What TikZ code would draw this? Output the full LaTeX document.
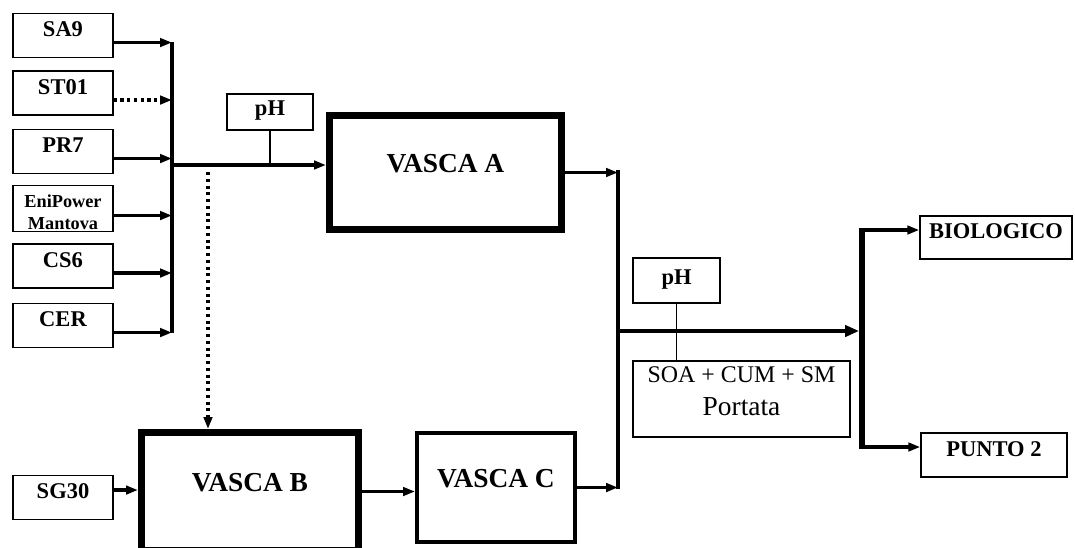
\documentclass[tikz,border=0pt]{standalone}
\usepackage{fontspec}
\setmainfont{Liberation Serif}
\usetikzlibrary{arrows.meta,positioning,calc}

\begin{document}
\begin{tikzpicture}[x=0.025cm, y=-0.025cm, >={Triangle[length=8.5pt,width=6pt]},
    srcbox/.style={draw, line width=1pt, minimum width=2.5cm, minimum height=1.1cm, inner sep=0pt,
        font=\bfseries\fontsize{16}{18}\selectfont, text height=10.5pt, text depth=9pt},
    phbox/.style={draw, line width=1pt, minimum width=2.15cm, minimum height=0.9cm, inner sep=0pt,
        font=\bfseries\fontsize{16}{18}\selectfont, text height=10.5pt, text depth=5pt},
    vasca/.style={draw, line width=5pt, inner sep=0pt,
        font=\bfseries\fontsize{19.5}{22}\selectfont, text height=12.8pt, text depth=13.5pt},
    flow/.style={->, line width=2.3pt},
    dotflow/.style={->, line width=2.2pt, dash pattern=on 2.2pt off 2.6pt},
    tap/.style={line width=0.9pt}]
    \useasboundingbox (0,0) rectangle (1075,547);

    % Sources
    \node[srcbox] (sa9) at (63,35.5) {SA9};
    \node[srcbox] (st01) at (63,93) {ST01};
    \node[srcbox] (pr7) at (63,151.5) {PR7};
    \node[srcbox, font=\bfseries\fontsize{13}{15}\selectfont, text height=31pt, text depth=1.8pt]
        (eni) at (63,208.5) {\begin{tabular}[b]{@{}c@{}}EniPower\\Mantova\end{tabular}};
    \node[srcbox] (cs6) at (63,266) {CS6};
    \node[srcbox] (cer) at (63,325.5) {CER};
    \node[srcbox] (sg30) at (63,497.5) {SG30};

    % Tanks
    \node[vasca, minimum width=5.8cm, minimum height=2.85cm] (vascaA) at (445.5,172.5) {VASCA A};
    \node[vasca, minimum width=5.425cm, minimum height=2.95cm] (vascaB) at (250,491.5) {VASCA B};
    \node[vasca, line width=2.8pt, minimum width=3.95cm, minimum height=2.725cm] (vascaC) at (496,487.5) {VASCA C};

    % Measures
    \node[phbox] (ph1) at (270,112) {pH};
    \node[phbox, minimum width=2.175cm, minimum height=1.125cm] (ph2) at (676.5,280.5) {pH};
    \node[draw, line width=1pt, minimum width=5.425cm, minimum height=1.9cm, inner sep=0pt,
        font=\fontsize{17}{23}\selectfont, text height=30pt, text depth=7.2pt] (soa) at (741.5,399)
        {\begin{tabular}[b]{@{}c@{}}SOA + CUM + SM\\{\fontsize{19.5}{23}\selectfont Portata}\end{tabular}};

    % Outlets
    \node[srcbox, minimum width=3.8cm, minimum height=1.075cm] (bio) at (996,237.5) {BIOLOGICO};
    \node[srcbox, minimum width=3.65cm] (punto) at (994,455) {PUNTO 2};

    % Collector to VASCA A
    \coordinate (busTop) at (172,42);
    \coordinate (busBot) at (172,333);
    \coordinate (junA) at (172,165);
    \draw[line width=2.3pt] (busTop) -- (busBot);
    \foreach \src in {sa9,pr7,eni,cs6,cer} {
        \draw[flow] ([yshift=-5pt]\src.east) -- ([yshift=-5pt]\src.east -| busTop);
    }
    \draw[dotflow] ([yshift=-5pt]st01.east) -- ([yshift=-5pt]st01.east -| busTop);
    \draw[flow] (junA) -- (junA -| vascaA.west);
    \draw[tap] (ph1.south) -- (ph1.south |- junA);

    % Bypass to VASCA B
    \coordinate (dotTop) at (208,172);
    \draw[dotflow] (dotTop) -- (dotTop |- vascaB.north);

    % Line B-C
    \draw[flow] ([yshift=5.3pt]sg30.east) -- ([yshift=5.3pt]sg30.east -| vascaB.west);
    \draw[flow] (vascaB.east) -- (vascaB.east -| vascaC.west);

    % Outlet column
    \coordinate (colTop) at (618,172);
    \coordinate (junB) at (618,331);
    \draw[flow] (vascaA.east) -- (vascaA.east -| colTop);
    \draw[flow] (vascaC.east) -- (vascaC.east -| colTop);
    \draw[line width=2.3pt] ([yshift=1.1pt]colTop) -- ([yshift=-1.1pt]colTop |- vascaC.east);

    % Splitter
    \coordinate (rbusTop) at (862,230);
    \coordinate (rbusBot) at (862,447);
    \draw[line width=4.3pt] ([yshift=1.1pt]rbusTop) -- ([yshift=-1.1pt]rbusBot);
    \draw[->, line width=2.9pt, >={Triangle[length=10pt,width=8pt]}, shorten >=2.1pt]
        (junB) -- (junB -| rbusTop);
    \draw[tap] (ph2.south) -- (ph2.south |- soa.north);
    \draw[flow] (rbusTop) -- (rbusTop -| bio.west);
    \draw[flow] (rbusBot) -- (rbusBot -| punto.west);
\end{tikzpicture}
\end{document}
